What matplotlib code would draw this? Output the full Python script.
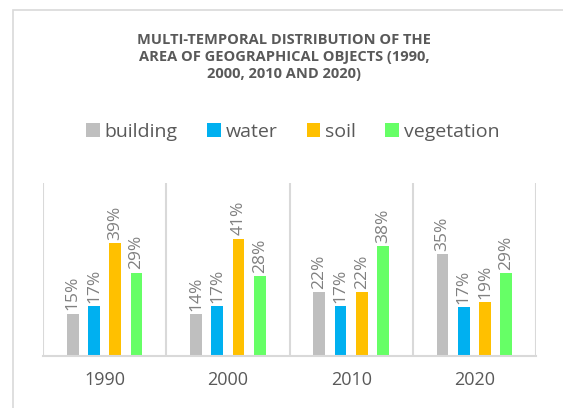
import numpy as np
import matplotlib.pyplot as plt
from matplotlib.patches import Rectangle

years = ['1990', '2000', '2010', '2020']
series = ['building', 'water', 'soil', 'vegetation']
building = [14.6, 14.3, 22.1, 35.2]
water = [17.1, 17.1, 17.2, 16.7]
soil = [39.0, 40.6, 22.0, 18.6]
vegetation = [28.8, 27.6, 38.0, 28.7]
colors = ['#bfbfbf', '#00b0f0', '#ffc000', '#66ff66']

plt.rcParams['font.family'] = ['Open Sans', 'DejaVu Sans']

fig = plt.figure(figsize=(5.63, 4.08), dpi=100)
ax = fig.add_axes([43 / 563, 1 - 355.5 / 408, (536 - 43) / 563, (355.5 - 183) / 408])

# outer chart border (runs off the right and bottom edges)
fig.patches.append(Rectangle((13 / 563, -0.1), 1.2, 1 - 10 / 408 + 0.1,
                             transform=fig.transFigure, fill=False,
                             edgecolor='#d9d9d9', linewidth=1.2))

x = np.arange(len(years))
step = 0.172
width = 0.095
data = [building, water, soil, vegetation]
for i, (name, vals) in enumerate(zip(series, data)):
    pos = x + (i - 1.5) * step
    ax.bar(pos, vals, width, color=colors[i], label=name)
    for p, v in zip(pos, vals):
        ax.text(p, v + 1.2, '%d%%' % round(v), rotation=90, ha='center', va='bottom',
                fontsize=12.5, color='#808080')

ax.set_xlim(-0.5, len(years) - 0.5)
ax.set_ylim(0, 60)
ax.set_yticks([])
ax.set_xticks(x)
ax.set_xticklabels(years, fontsize=13, color='#595959')
ax.tick_params(axis='x', length=0, pad=11)
for s in ['top', 'right', 'left']:
    ax.spines[s].set_visible(False)
ax.spines['bottom'].set_color('#d9d9d9')
ax.spines['bottom'].set_linewidth(1.5)
for b in np.arange(-0.5, len(years), 1.0):
    ax.axvline(b, color='#d9d9d9', linewidth=1.5)

fig.text(0.505, 0.92, 'MULTI-TEMPORAL DISTRIBUTION OF THE\nAREA OF GEOGRAPHICAL OBJECTS (1990,\n2000, 2010 AND 2020)',
         ha='center', va='top', fontsize=10.5, fontweight='bold', color='#595959', linespacing=1.3)

fig.legend(loc='center', bbox_to_anchor=(0.52, 0.677), ncol=4, frameon=False, fontsize=14,
           handlelength=0.7, handleheight=0.7, handletextpad=0.25, columnspacing=1.5,
           labelcolor='#595959')

fig.savefig('out.png', dpi=100)
